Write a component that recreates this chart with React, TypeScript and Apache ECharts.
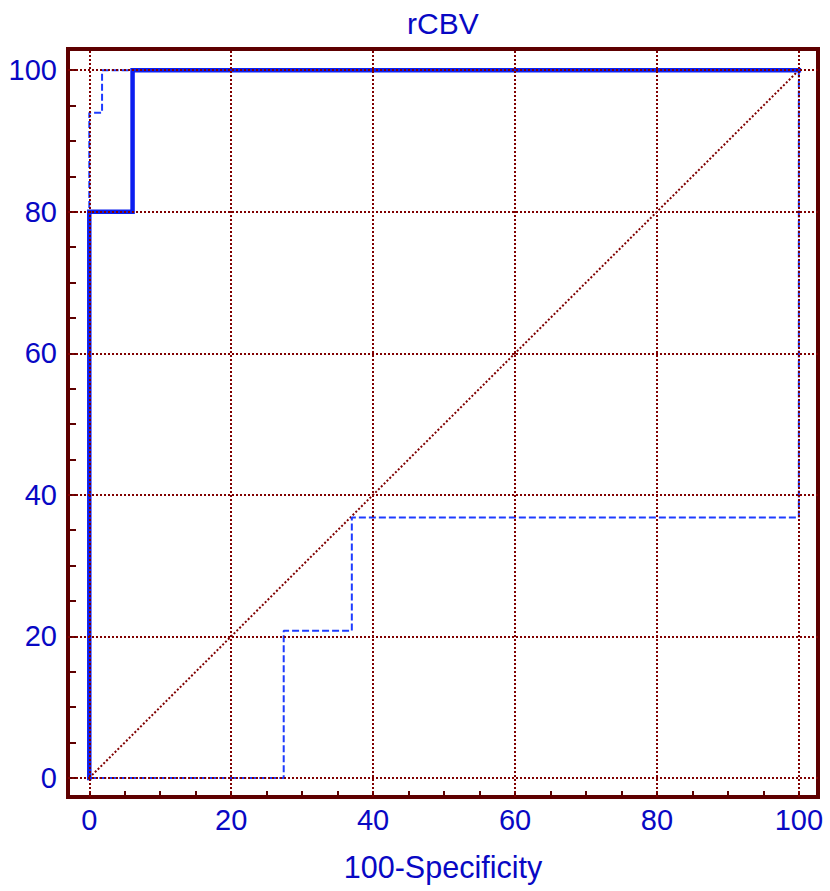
import React, { useEffect, useRef } from "react";
import * as echarts from "echarts";

const titleText = "rCBV";
const xAxisName = "100-Specificity";
const majorTicks = [0, 20, 40, 60, 80, 100];
const minorTicks = [0, 5, 10, 15, 20, 25, 30, 35, 40, 45, 50, 55, 60, 65, 70, 75, 80, 85, 90, 95, 100];

const rocX = [0, 0, 6.1, 6.1, 100];
const rocY = [0, 80, 80, 100, 100];
const upperX = [0, 0, 1.8, 1.8, 100];
const upperY = [0, 94, 94, 100, 100];
const lowerX = [0, 27.4, 27.4, 37, 37, 100, 100];
const lowerY = [0, 0, 20.8, 20.8, 36.8, 36.8, 100];
const diagX = [0, 100];
const diagY = [0, 100];

const zip = (xs: number[], ys: number[]) => xs.map((x, i) => [x, ys[i]]);

export default function App() {
  const ref = useRef<HTMLDivElement>(null);
  useEffect(() => {
    document.body.style.margin = "0";
    const chart = echarts.init(ref.current!, null, { renderer: "svg" });
    const maroon = "#5e0000";
    const gridColor = "#800000";
    const blue = "#0b1ef0";
    const dashBlue = "#1e3cff";
    const textBlue = "#0808c4";
    const font = "Liberation Sans, Arial, sans-serif";
    chart.setOption({
      animation: false,
      backgroundColor: "#ffffff",
      title: {
        text: titleText,
        left: 402,
        top: 3,
        textStyle: { color: textBlue, fontSize: 30, fontWeight: "normal", fontFamily: font },
      },
      grid: {
        left: 68,
        right: 12,
        top: 49,
        bottom: 94,
        show: true,
        borderColor: maroon,
        borderWidth: 4,
        containLabel: false,
      },
      xAxis: {
        type: "value",
        min: -3,
        max: 102.7,
        name: xAxisName,
        nameLocation: "middle",
        nameGap: 54,
        nameTextStyle: { color: textBlue, fontSize: 30.5, fontFamily: font },
        axisLine: { show: false, onZero: false },
        splitLine: { show: false },
        axisTick: { show: true, inside: true, length: 6, customValues: minorTicks, lineStyle: { color: maroon, width: 2 } },
        axisLabel: { show: true, customValues: majorTicks, margin: 8, color: textBlue, fontSize: 29, fontFamily: font },
      },
      yAxis: {
        type: "value",
        min: -2.7,
        max: 103,
        axisLine: { show: false, onZero: false },
        splitLine: { show: false },
        axisTick: { show: true, inside: true, length: 8, customValues: minorTicks, lineStyle: { color: maroon, width: 2 } },
        axisLabel: { show: true, customValues: majorTicks, margin: 11, color: textBlue, fontSize: 29, fontFamily: font },
      },
      series: [
        {
          type: "line",
          data: zip(diagX, diagY),
          symbol: "none",
          lineStyle: { color: gridColor, width: 2, type: [2, 2] },
          z: 1,
          silent: true,
          markLine: {
            silent: true,
            symbol: "none",
            label: { show: false },
            lineStyle: { color: gridColor, width: 2, type: [2, 2] },
            data: [
              ...majorTicks.map((v) => ({ xAxis: v })),
              ...majorTicks.map((v) => ({ yAxis: v })),
            ],
          },
        },
        {
          type: "line",
          data: zip(lowerX, lowerY),
          symbol: "none",
          lineStyle: { color: dashBlue, width: 2, type: [7, 3] },
          z: 2,
        },
        {
          type: "line",
          data: zip(upperX, upperY),
          symbol: "none",
          lineStyle: { color: dashBlue, width: 2, type: [7, 3] },
          z: 2,
        },
        {
          type: "line",
          data: zip(rocX, rocY),
          symbol: "none",
          lineStyle: { color: blue, width: 4.5, join: "miter", cap: "square" },
          z: 3,
        },
      ],
    });
    return () => chart.dispose();
  }, []);
  return <div ref={ref} style={{ width: 830, height: 891 }} />;
}
